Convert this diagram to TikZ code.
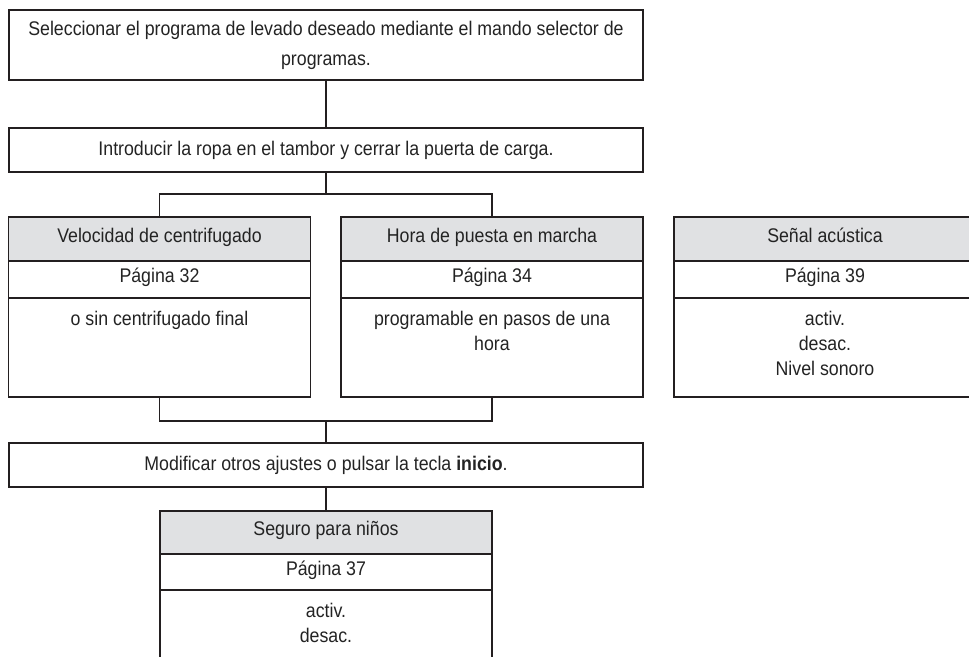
\documentclass[tikz,border=0pt]{standalone}
\usepackage{fontspec}
\setmainfont{Liberation Sans}[FakeStretch=0.9]
\usepackage{tikz}
\usetikzlibrary{positioning}
\definecolor{LineaGris}{RGB}{35,31,32}
\definecolor{TextoGris}{RGB}{35,35,35}
\definecolor{CabGris}{RGB}{224,225,227}

\begin{document}
\begin{tikzpicture}[x=0.75pt, y=-0.75pt,
	font=\fontsize{14.8}{18.75}\selectfont, text=TextoGris,
	paso/.style={rectangle, draw=LineaGris, line width=1.4pt, outer sep=0pt, minimum width=476pt, align=center},
	cab/.style={rectangle, draw=LineaGris, line width=1.4pt, outer sep=0pt, fill=CabGris, minimum height=33pt, inner sep=0pt, text height=0.72em, text depth=0.22em},
	pag/.style={rectangle, draw=LineaGris, line width=1.4pt, outer sep=0pt, minimum height=27.75pt, inner sep=0pt, text height=0.72em, text depth=0.22em},
	cuerpo/.style={rectangle, draw=LineaGris, line width=1.4pt, outer sep=0pt, minimum height=74.25pt, inner sep=0pt},
	txt/.style={anchor=north, align=center, yshift=-6pt},
	ln/.style={draw=LineaGris, line width=1.4pt}]

	\useasboundingbox (0,0) rectangle (969,656);

	% --- pasos principales ---
	\node[paso, minimum height=52.5pt] (sel) at (326,45) {Seleccionar el programa de levado deseado mediante el mando selector de\\[3.75pt] programas.};
	\node[paso, minimum height=33pt] (intro) at (326,150) {Introducir la ropa en el tambor y cerrar la puerta de carga.};
	\coordinate (j1) at (326,194);

	% --- velocidad ---
	\node[cab, minimum width=226.5pt] (velH) at (159.5,239) {Velocidad de centrifugado};
	\node[pag, minimum width=226.5pt, below=0pt of velH] (velP) {Página 32};
	\node[cuerpo, minimum width=226.5pt, below=0pt of velP,
		label={[txt]north:o sin centrifugado final}] (velB) {};
	% --- hora ---
	\node[cab, minimum width=226.5pt] (horaH) at (492,239) {Hora de puesta en marcha};
	\node[pag, minimum width=226.5pt, below=0pt of horaH] (horaP) {Página 34};
	\node[cuerpo, minimum width=226.5pt, below=0pt of horaP,
		label={[txt]north:programable en pasos de una\\ hora}] (horaB) {};
	% --- senal ---
	\node[cab, minimum width=226.5pt] (senH) at (825,239) {Señal acústica};
	\node[pag, minimum width=226.5pt, below=0pt of senH] (senP) {Página 39};
	\node[cuerpo, minimum width=226.5pt, below=0pt of senP,
		label={[txt]north:activ.\\ desac.\\ Nivel sonoro}] (senB) {};

	\coordinate (j2) at (326,421);
	\node[paso, minimum height=33pt] (mod) at (326,465) {Modificar otros ajustes o pulsar la tecla \textbf{inicio}.};

	% --- seguro ---
	\node[cab, minimum width=249pt, minimum height=32.25pt] (segH) at (326,532.5) {Seguro para niños};
	\node[pag, minimum width=249pt, minimum height=27pt, below=0pt of segH] (segP) {Página 37};
	\node[cuerpo, minimum width=249pt, minimum height=80pt, below=0pt of segP,
		label={[txt]north:activ.\\ desac.}] (segB) {};

	% --- lineas ---
	\draw[ln] (sel) -- (intro);
	\draw[ln] (intro) -- (j1);
	\draw[ln] (velH.north) |- (j1) -| (horaH.north);
	\draw[ln] (velB.south) |- (j2) -| (horaB.south);
	\draw[ln] (j2) -- (mod);
	\draw[ln] (mod) -- (segH);
\end{tikzpicture}
\end{document}
